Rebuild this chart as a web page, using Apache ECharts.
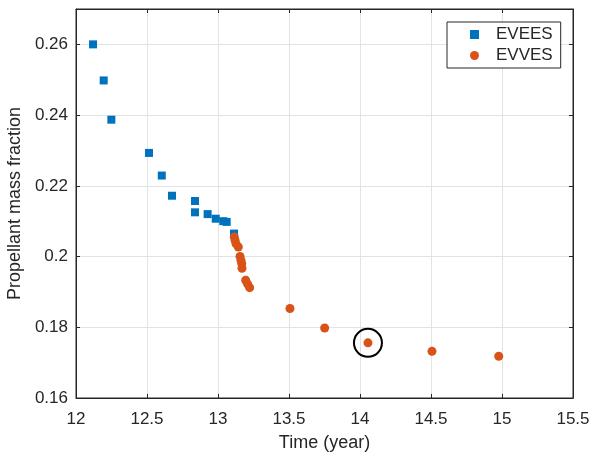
<!DOCTYPE html>
<html>
<head>
<meta charset="utf-8">
<script src="https://cdn.jsdelivr.net/npm/echarts@6/dist/echarts.min.js"></script>
<style>
  html, body { margin: 0; padding: 0; background: #fff; }
  #chart { width: 592px; height: 454px; }
</style>
</head>
<body>
<div id="chart"></div>
<script>
// Transfer time (years) vs. propellant mass fraction for two flyby sequences
const eveesTime = [12.12, 12.195, 12.249, 12.514, 12.604, 12.676, 12.838, 12.838, 12.927, 12.984, 13.037, 13.061, 13.113];
const eveesFrac = [0.2600, 0.2498, 0.2387, 0.2293, 0.2229, 0.2172, 0.2157, 0.2125, 0.2120, 0.2107, 0.2100, 0.2098, 0.2065];

const evvesTime = [13.115, 13.12, 13.127, 13.143, 13.155, 13.162, 13.167, 13.169, 13.195, 13.209, 13.223, 13.507, 13.751, 14.056, 14.507, 14.977];
const evvesFrac = [0.2055, 0.2046, 0.2036, 0.2027, 0.2000, 0.1989, 0.1980, 0.1967, 0.1933, 0.1922, 0.1912, 0.1853, 0.1798, 0.1756, 0.1732, 0.1718];

// Selected solution, ringed on the chart
const highlightPoint = [14.056, 0.1756];

const seriesNames = ['EVEES', 'EVVES'];
const xTicks = { min: 12, max: 15.5, step: 0.5 };
const yTicks = { min: 0.16, max: 0.27, step: 0.02 };

const FONT = '"Liberation Sans", Arial, Helvetica, sans-serif';
const INK = '#262626';
const BLUE = '#0072BD';
const ORANGE = '#D95319';

const pairs = (xs, ys) => xs.map((x, i) => [x, ys[i]]);

const tickInside = { show: true, inside: true, length: 4, lineStyle: { color: INK, width: 1 } };

const chart = echarts.init(document.getElementById('chart'), null, { renderer: 'canvas' });
chart.setOption({
  animation: false,
  backgroundColor: '#fff',
  textStyle: { fontFamily: FONT },
  grid: {
    left: 76, right: 19, top: 9, bottom: 56,
    containLabel: false, outerBoundsMode: 'none',
    show: true, borderColor: INK, borderWidth: 1, backgroundColor: 'transparent'
  },
  legend: {
    orient: 'vertical',
    left: 447, top: 22,
    padding: [4, 8, 4, 23],
    itemWidth: 9, itemHeight: 9, itemGap: 4,
    backgroundColor: '#fff',
    borderColor: INK, borderWidth: 1,
    data: [
      { name: seriesNames[0], icon: 'rect' },
      { name: seriesNames[1], icon: 'circle' }
    ],
    textStyle: { fontFamily: FONT, fontSize: 17, color: INK, lineHeight: 17, padding: [0, 0, 0, 12] }
  },
  xAxis: [{
    type: 'value', min: xTicks.min, max: xTicks.max, interval: xTicks.step,
    name: 'Time (year)', nameLocation: 'middle', nameGap: 36,
    nameTextStyle: { fontFamily: FONT, fontSize: 18, color: INK },
    axisLine: { show: true, lineStyle: { color: INK, width: 1 } },
    axisTick: tickInside,
    axisLabel: { fontFamily: FONT, fontSize: 17, color: INK, margin: 13 },
    splitLine: { show: true, lineStyle: { color: '#e3e3e3', width: 1 } }
  }, {
    type: 'value', position: 'top', min: xTicks.min, max: xTicks.max, interval: xTicks.step,
    axisLine: { show: true, lineStyle: { color: INK } },
    axisTick: tickInside, axisLabel: { show: false }, splitLine: { show: false }
  }],
  yAxis: [{
    type: 'value', min: yTicks.min, max: yTicks.max, interval: yTicks.step,
    name: 'Propellant mass fraction', nameLocation: 'middle', nameGap: 43, nameRotate: 90,
    nameTextStyle: { fontFamily: FONT, fontSize: 18, color: INK },
    axisLine: { show: true, lineStyle: { color: INK, width: 1 } },
    axisTick: tickInside,
    axisLabel: { fontFamily: FONT, fontSize: 17, color: INK, margin: 8, showMaxLabel: false },
    splitLine: { show: true, lineStyle: { color: '#e3e3e3', width: 1 } }
  }, {
    type: 'value', position: 'right', min: yTicks.min, max: yTicks.max, interval: yTicks.step,
    axisLine: { show: true, lineStyle: { color: INK } },
    axisTick: tickInside, axisLabel: { show: false }, splitLine: { show: false }
  }],
  series: [
    {
      name: seriesNames[0], type: 'scatter', symbol: 'rect', symbolSize: 8,
      itemStyle: { color: BLUE, opacity: 1 },
      data: pairs(eveesTime, eveesFrac), z: 3
    },
    {
      name: seriesNames[1], type: 'scatter', symbol: 'circle', symbolSize: 9,
      itemStyle: { color: ORANGE, opacity: 1 },
      data: pairs(evvesTime, evvesFrac), z: 4
    },
    {
      name: 'selected', type: 'scatter', symbol: 'circle', symbolSize: 28,
      itemStyle: { color: 'transparent', borderColor: '#000', borderWidth: 2, opacity: 1 },
      data: [highlightPoint], z: 5, silent: true
    }
  ]
});
</script>
</body>
</html>
